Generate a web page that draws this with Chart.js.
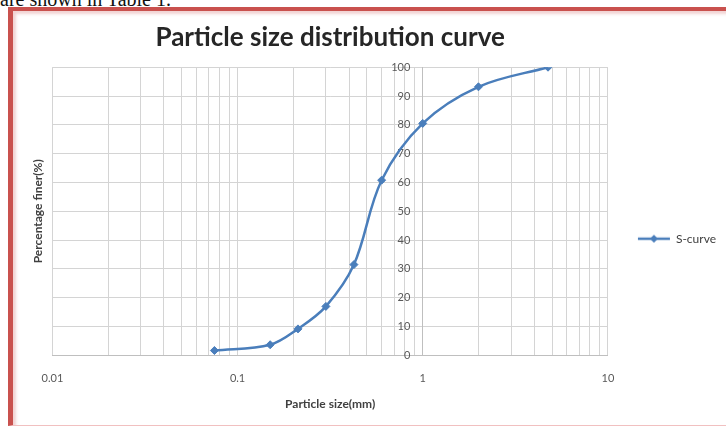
<!DOCTYPE html>
<html>
<head>
<meta charset="utf-8">
<script src="https://cdn.jsdelivr.net/npm/chart.js@4.4.1/dist/chart.umd.min.js"></script>
<style>
  html, body { margin: 0; padding: 0; background: #fff; width: 726px; height: 427px; overflow: hidden; }
  .caption { position: absolute; left: 0; top: -12px; font: 20px "Liberation Serif", serif; color: #111; white-space: nowrap; }
  .frame {
    position: absolute; left: 8px; top: 7px; width: 713px; height: 414px;
    border-left: 5px solid #c9514e; border-top: 4px solid #c9514e; border-bottom: 1px solid #f1c0c0;
    box-shadow: inset 3px 3px 3px rgba(201, 81, 78, 0.25); background: #fff;
  }
  canvas { display: block; }
</style>
</head>
<body>
<div class="caption">are shown in Table 1.</div>
<div class="frame"><canvas id="chart" width="713" height="414"></canvas></div>
<script>
  // Sieve sizes (mm) and percentage passing
  const sizes = [0.075, 0.15, 0.212, 0.3, 0.425, 0.6, 1, 2, 4.75];
  const finer = [1.7, 3.7, 9.2, 17, 31.5, 60.8, 80.5, 93.2, 100];
  const decades = [0.01, 0.1, 1, 10];
  const seriesName = 'S-curve';

  const blue = '#4a7ebb';
  const gridColor = '#d4d4d4';
  Chart.defaults.font.family = 'Lato, "Liberation Sans", sans-serif';

  // log grid: 1..9 times each decade
  const gridValues = [];
  decades.slice(0, -1).forEach(function (d) {
    for (let m = 1; m <= 9; m++) gridValues.push(Number((m * d).toFixed(6)));
  });
  gridValues.push(decades[decades.length - 1]);

  // legend symbol: line with a diamond marker
  function legendIcon() {
    const c = document.createElement('canvas');
    c.width = 34; c.height = 12;
    const g = c.getContext('2d');
    g.strokeStyle = blue; g.lineWidth = 2.5;
    g.beginPath(); g.moveTo(1, 6); g.lineTo(33, 6); g.stroke();
    g.fillStyle = blue;
    g.beginPath(); g.moveTo(17, 2); g.lineTo(21, 6); g.lineTo(17, 10); g.lineTo(13, 6); g.closePath(); g.fill();
    return c;
  }

  new Chart(document.getElementById('chart'), {
    type: 'line',
    data: {
      datasets: [{
        label: seriesName,
        data: sizes.map(function (s, i) { return { x: s, y: finer[i] }; }),
        borderColor: blue,
        backgroundColor: blue,
        borderWidth: 2.5,
        pointStyle: 'rectRot',
        pointRadius: 4,
        pointBorderWidth: 1,
        tension: 0.35,
        fill: false
      }]
    },
    options: {
      responsive: false,
      animation: false,
      layout: { padding: { left: 15, top: 5, right: 0, bottom: 10 } },
      plugins: {
        title: {
          display: true,
          fullSize: false,
          text: 'Particle size distribution curve',
          color: '#262626',
          font: { size: 26, weight: 'bold' },
          padding: { top: 6, bottom: 14 }
        },
        legend: {
          position: 'right',
          maxWidth: 119,
          title: { display: true, text: ' ', padding: { top: 0, bottom: 32 } },
          labels: {
            usePointStyle: true,
            pointStyle: legendIcon(),
            pointStyleWidth: 32,
            padding: 30,
            color: '#404040',
            font: { size: 12 }
          }
        },
        tooltip: { enabled: false }
      },
      scales: {
        x: {
          type: 'logarithmic',
          min: 0.01,
          max: 10,
          afterBuildTicks: function (scale) {
            scale.ticks = gridValues.map(function (v) { return { value: v, major: decades.includes(v) }; });
          },
          ticks: {
            autoSkip: false,
            maxRotation: 0,
            padding: 16,
            color: '#595959',
            font: { size: 11 },
            callback: function (v) { return decades.includes(v) ? String(v) : ''; }
          },
          grid: { color: gridColor, drawTicks: false },
          border: { color: '#bfbfbf' },
          title: {
            display: true,
            text: 'Particle size(mm)',
            color: '#404040',
            font: { size: 12, weight: 'bold' },
            padding: { top: -4, bottom: 4 }
          }
        },
        y: {
          min: 0,
          max: 100,
          position: { x: 1 },
          ticks: {
            stepSize: 10,
            color: '#595959',
            font: { size: 11 },
            // labels sit right-aligned on the x = 1 line; pad them off it
            callback: function (v) { return v + '\u2002\u2002\u2009'; }
          },
          grid: { color: gridColor, drawTicks: false },
          border: { color: '#bfbfbf' }
        },
        yTitle: {
          position: 'left',
          min: 0,
          max: 100,
          ticks: { display: false },
          grid: { display: false, drawTicks: false },
          border: { display: false },
          title: {
            display: true,
            text: 'Percentage finer(%)',
            color: '#404040',
            font: { size: 12, weight: 'bold' },
            padding: { top: 3, bottom: 7 }
          }
        }
      }
    }
  });
</script>
</body>
</html>
